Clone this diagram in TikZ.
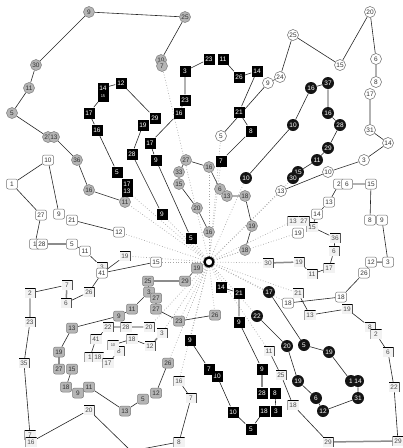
\documentclass[tikz,border=0pt]{standalone}
\usepackage{fontspec}
\setmainfont{Liberation Sans}
\usetikzlibrary{backgrounds}
\definecolor{gcfill}{HTML}{B5B5B5}
\definecolor{gcdraw}{HTML}{7A7A7A}
\definecolor{gctext}{HTML}{333333}
\begin{document}
\begin{tikzpicture}[x=1pt,y=-1pt,
  base/.style={inner sep=0.4pt, font=\fontsize{6.5}{6.5}\selectfont, line width=0.5pt},
  gc/.style={base, circle, fill=gcfill, draw=gcdraw, text=gctext, minimum size=11pt},
  bs/.style={base, rectangle, fill=black, text=white, minimum size=11pt},
  bc/.style={base, circle, fill=black!92, text=white, minimum size=12pt},
  wc/.style={base, circle, fill=white, draw=black!60, text=black!80, minimum size=11pt},
  wr/.style={base, rectangle, rounded corners=2pt, fill=white, draw=black!55, text=black!80, minimum width=11pt, minimum height=10pt},
  gr/.style={base, rectangle, rounded corners=2pt, fill=gcfill, draw=gcdraw, text=gctext, minimum width=11pt, minimum height=10pt},
  brk/.style={base, rectangle, fill=black!5, text=black!70, minimum width=11pt, minimum height=10pt,
    path picture={\draw[line width=1.6pt] (path picture bounding box.north west) -- (path picture bounding box.north east) -- (path picture bounding box.south east);}},
  brkl/.style={base, rectangle, fill=black!5, text=black!70, minimum width=11pt, minimum height=10pt,
    path picture={\draw[line width=1.6pt] (path picture bounding box.north east) -- (path picture bounding box.north west) -- (path picture bounding box.south west);}},
  tiny/.style={font=\fontsize{4}{4}\selectfont},
  e/.style={draw=black!85, line width=0.6pt},
  thk/.style={draw=black!45, line width=1.5pt},
  dot/.style={draw=black!35, dotted, line width=0.7pt}
]
\useasboundingbox (0,0) rectangle (403,448);
\node[circle, draw=black, line width=2.3pt, fill=white, minimum size=9pt, inner sep=0pt] (hub) at (209,262) {};
% gray chain A
\node[gc] (a1) at (89,12) {9};
\node[gc] (a2) at (185,17) {25};
\node[gc] (a3) at (161,60) {10};
\node[gc] (a4) at (162,66) {7};
\node[gc] (a5) at (36,65) {30};
\node[gc] (a6) at (29,88) {11};
\node[gc] (a7) at (12,113) {5};
\node[gc] (a8) at (48,137) {27};
\node[gc] (a9) at (54,137) {13};
\node[gc] (a10) at (77,160) {36};
\node[gc] (a11) at (89,190) {16};
\node[gc] (a12) at (125,202) {11};
% black square chain 1
\node[bs] (b1) at (191,238) {5};
\node[bs] (b2) at (156,160) {9};
\node[bs] (b3) at (150,143) {17};
\node[bs] (b4) at (179,113) {16};
\node[bs] (b5) at (185,100) {23};
\node[bs] (b6) at (185,71) {3};
\node[bs] (b7) at (209,59) {23};
\node[bs] (b8) at (223,59) {11};
\node[bs] (b9) at (239,77) {26};
\node[bs] (b10) at (257,71) {14};
\node[bs] (b11) at (239,112) {21};
\node[bs] (b12) at (251,131) {8};
\node[bs] (b13) at (221,161) {7};
% black square chain 2
\node[bs] (c1) at (162,214) {9};
\node[bs] (c2) at (132,154) {28};
\node[bs] (c3) at (143,125) {19};
\node[bs] (c4) at (155,118) {29};
\node[bs] (c5) at (121,83) {12};
\node[bs] (c6) at (103,88) {14};
\node[bs,tiny] (c7) at (103,96) {15};
\node[bs] (c8) at (89,113) {17};
\node[bs] (c9) at (97,130) {16};
\node[bs] (c10) at (117,172) {5};
\node[bs] (c11) at (127,184) {17};
\node[bs] (c12) at (127,191) {13};
% black circle chain 1
\node[bc] (d1) at (246,178) {10};
\node[bc] (d2) at (293,125) {10};
\node[bc] (d3) at (311,88) {16};
\node[bc] (d4) at (328,83) {37};
\node[bc] (d5) at (328,113) {16};
\node[bc] (d6) at (340,125) {28};
\node[bc] (d7) at (328,148) {29};
\node[bc] (d8) at (317,160) {11};
\node[bc] (d9) at (298,172) {15};
\node[bc] (d10) at (293,178) {30};
% white circle chain
\node[wc] (e1) at (281,191) {13};
\node[wc] (e2) at (328,172) {10};
\node[wc] (e3) at (364,160) {3};
\node[wc] (e4) at (388,143) {14};
\node[wc] (e5) at (370,130) {31};
\node[wc] (e6) at (370,94) {17};
\node[wc] (e7) at (376,82) {8};
\node[wc] (e8) at (376,59) {6};
\node[wc] (e9) at (370,12) {20};
\node[wc] (e10) at (340,65) {15};
\node[wc] (e11) at (293,35) {25};
\node[wc] (e12) at (280,77) {24};
\node[wc] (e13) at (268,83) {9};
\node[wc] (e14) at (221,136) {5};
% gray chain B
\node[gc] (f1) at (209,232) {16};
\node[gc] (f2) at (197,208) {20};
\node[gc] (f3) at (179,184) {15};
\node[gc] (f4) at (179,172) {33};
\node[gc] (f5) at (186,160) {27};
\node[gc] (f6) at (209,167) {16};
\node[gc] (f7) at (220,189) {6};
\node[gc] (f8) at (227,196) {13};
\node[gc] (f9) at (245,196) {18};
\node[gc] (f10) at (252,226) {19};
\node[gc] (f11) at (245,250) {18};
% white rect left
\node[wr] (g1) at (119,232) {12};
\node[wr] (g2) at (72,220) {21};
\node[wr] (g3) at (59,214) {9};
\node[wr] (g4) at (48,160) {10};
\node[wr] (g5) at (12,184) {1};
\node[wr] (g6) at (41,215) {27};
\node[wr] (g7) at (35,244) {1};
\node[wr] (g8) at (42,244) {28};
\node[wr] (g9) at (72,244) {5};
\node[wr] (g10) at (85,251) {11};
% bracket chain 1
\node[brk] (h1) at (125,256) {19};
\node[brk] (h2) at (102,267) {3};
\node[wr] (h3) at (102,273) {41};
\node[brk] (h4) at (89,292) {26};
\node[brk] (h5) at (67,285) {7};
\node[brk] (h6) at (66,303) {6};
\node[brk] (h7) at (30,293) {2};
\node[brk] (h8) at (30,322) {23};
\node[brk] (h9) at (24,363) {35};
\node[brkl] (h10) at (30,435) {7};
\node[brkl] (h11) at (31,442) {16};
\node[brk] (h12) at (89,410) {20};
\node[brkl] (h13) at (179,442) {8};
\node[brk] (h14) at (191,398) {7};
\node[brkl] (h15) at (179,381) {16};
\node[wr] (h16) at (156,262) {15};
\coordinate (bot) at (131,451);
% bracket chain 2
\node[brk] (i1) at (149,327) {20};
\node[brkl] (i2) at (126,327) {28};
\node[brk] (i3) at (108,327) {22};
\node[brkl] (i4) at (96,339) {41};
\node[brkl] (i5) at (90,357) {1};
\node[brkl] (i6) at (98,357) {18};
\node[brkl] (i7) at (108,363) {17};
\node[brk] (i8) at (119,351) {8};
\node[brkl,tiny] (i9) at (113,345) {10};
\node[brkl] (i10) at (132,339) {18};
\node[brk] (i11) at (150,346) {12};
\node[brk] (i12) at (162,333) {3};
% gray rect chain C
\node[gr] (j1) at (197,268) {19};
\node[gr] (j2) at (185,281) {29};
\node[gr] (j3) at (148,281) {25};
\node[gr] (j4) at (149,292) {3};
\node[gr] (j5) at (156,298) {27};
\node[gr] (j6) at (156,309) {27};
\node[gr] (j7) at (179,321) {23};
\node[gr] (j8) at (215,315) {26};
\node[gr] (j9) at (132,309) {11};
\node[gr] (j10) at (119,316) {9};
\node[gr] (j11) at (72,328) {13};
\node[gr] (j12) at (59,352) {19};
\node[gr] (j13) at (59,369) {27};
\node[gr] (j14) at (72,369) {15};
\node[gr] (j15) at (66,387) {18};
\node[gr] (j16) at (78,393) {9};
\node[gr] (j17) at (89,387) {11};
\node[gr] (j18) at (125,411) {13};
\node[gr] (j19) at (143,399) {5};
\node[gr] (j20) at (156,393) {12};
\node[gr] (j21) at (168,363) {26};
% black square chain 3
\node[bs] (k1) at (221,287) {14};
\node[bs] (k2) at (239,293) {21};
\node[bs] (k3) at (239,322) {9};
\node[bs] (k4) at (262,369) {9};
\node[bs] (k5) at (262,393) {28};
\node[bs] (k6) at (275,393) {8};
\node[bs] (k7) at (264,411) {18};
\node[bs] (k8) at (276,411) {3};
\node[bs] (k9) at (251,429) {5};
\node[bs] (k10) at (233,412) {10};
\node[bs] (k11) at (217,376) {10};
\node[bs] (k12) at (209,369) {7};
\node[bs] (k13) at (190,340) {9};
% black circle chain 2
\node[bc] (l1) at (269,292) {17};
\node[bc] (l2) at (304,345) {5};
\node[bc] (l3) at (329,352) {19};
\node[bc] (l4) at (351,381) {1};
\node[bc] (l5) at (358,381) {14};
\node[bc] (l6) at (358,398) {31};
\node[bc] (l7) at (323,411) {12};
\node[bc] (l8) at (316,398) {6};
\node[bc] (l9) at (298,381) {19};
\node[bc] (l10) at (287,346) {20};
\node[bc] (l11) at (257,316) {22};
% bracket chain 3 / white rect right
\node[brk] (m1) at (268,263) {30};
\node[brk] (m2) at (299,262) {19};
\node[brk] (m3) at (312,274) {11};
\node[brkl] (m4) at (329,268) {17};
\node[brk] (m5) at (334,251) {6};
\node[brk] (m6) at (335,238) {36};
\node[brkl] (m7) at (312,227) {15};
\node[brk] (m8) at (304,221) {27};
\node[brkl] (m9) at (293,221) {13};
\node[wr] (m10) at (298,233) {19};
\node[wr] (m11) at (317,214) {14};
\node[wr] (m12) at (329,202) {13};
\node[wr] (m13) at (339,184) {2};
\node[wr] (m14) at (347,184) {6};
\node[wr] (m15) at (371,184) {15};
\node[wr] (m16) at (370,220) {8};
\node[wr] (m17) at (382,220) {9};
\node[wr] (m18) at (388,262) {3};
\node[wr] (m19) at (371,262) {12};
\node[wr] (m20) at (364,273) {26};
\node[wr] (m21) at (341,297) {18};
\node[wr] (m22) at (288,303) {18};
% bracket chain 4
\node[brk] (n1) at (298,293) {21};
\node[brkl] (n2) at (310,315) {13};
\node[brk] (n3) at (347,309) {19};
\node[brk] (n4) at (370,327) {8};
\node[brkl] (n5) at (376,334) {2};
\node[brk] (n6) at (388,352) {6};
\node[brk] (n7) at (394,387) {22};
\node[brkl] (n8) at (398,441) {29};
\node[brk] (n9) at (328,442) {29};
\node[brkl] (n10) at (293,405) {18};
\node[brk] (n11) at (281,375) {25};
\node[brk] (n12) at (269,351) {11};

\begin{pgfonlayer}{background}
% dotted spokes
\foreach \t in {a4,a12,b1,b13,c1,c12,d1,d10,e1,e14,f1,f6,f11,g1,h1,h16,h15,i1,i12,j1,j7,j8,j21,k1,k13,l1,l11,m1,m9,m10,m22,n1,n12}
  \draw[dot] (hub) -- (\t);
% gray A
\draw[e] (a1) -- (a2) (a2) -- (a3) (a1) -- (a5) (a5) -- (a6) (a6) -- (a7) (a7) -- (a8) (a9) -- (a10) (a10) -- (a11) (a11) -- (a12);
% black sq 1
\draw[e] (b1) -- (b2) (b2) -- (b3) (b3) -- (b4) (b4) -- (b5) (b5) -- (b6) (b6) -- (b7) (b8) -- (b9) (b9) -- (b10) (b10) -- (b11) (b11) -- (b12) (b12) -- (b13);
% black sq 2
\draw[e] (c1) -- (c2) (c2) -- (c3) (c4) -- (c5) (c5) -- (c6) (c7) -- (c8) (c8) -- (c9) (c9) -- (c10);
% black circle 1
\draw[e] (d1) -- (d2) (d2) -- (d3) (d3) -- (d4) (d4) -- (d5) (d5) -- (d6) (d6) -- (d7) (d7) -- (d8) (d8) -- (d9);
% white circle
\draw[e] (e1) -- (e2) (e2) -- (e3) (e3) -- (e4) (e4) -- (e5) (e5) -- (e6) (e7) -- (e8) (e8) -- (e9) (e9) -- (e10) (e10) -- (e11) (e11) -- (e12) (e12) -- (e13) (e13) -- (e14);
% gray B
\draw[e] (f1) -- (f2) (f2) -- (f3) (f4) -- (f5) (f5) -- (f6) (f6) -- (f7) (f8) -- (f9) (f9) -- (f10) (f10) -- (f11);
% white rect left
\draw[e] (g1) -- (g2) (g3) -- (g4) (g4) -- (g5) (g5) -- (g6) (g6) -- (g7) (g9) -- (g10) (g10) -- (h2);
\draw[thk] (g8) -- (g9);
% bracket 1
\draw[e] (h1) -- (h3) (h3) -- (h16) (h3) -- (h4) (h4) -- (h6) (h5) -- (h7) (h7) -- (h8) (h8) -- (h9) (h9) -- (h10) (h11) -- (h12) (h12) -- (bot) (bot) -- (h13) (h13) -- (h14) (h14) -- (h15);
\draw[thk] (h6) -- (h5);
% bracket 2
\draw[e] (i1) -- (i2) (i2) -- (i3) (i3) -- (i4) (i4) -- (i5) (i6) -- (i7) (i7) -- (i8) (i9) -- (i10) (i10) -- (i11);
\draw[thk] (i11) -- (i12);
% gray rect C
\draw[e] (j1) -- (j2) (j3) -- (j4) (j6) -- (j7) (j7) -- (j8) (j4) -- (j9) (j9) -- (j10) (j10) -- (j11) (j11) -- (j12) (j14) -- (j15) (j17) -- (j18) (j18) -- (j19) (j20) -- (j21);
\draw[thk] (j2) -- (j3) (j5) -- (j6) (j12) -- (j13);
% black sq 3
\draw[e] (k1) -- (k2) (k2) -- (k3) (k3) -- (k4) (k6) -- (k8) (k7) -- (k9) (k9) -- (k10) (k10) -- (k11) (k12) -- (k13);
\draw[thk] (k4) -- (k5);
% black circle 2
\draw[e] (l1) -- (l2) (l2) -- (l3) (l3) -- (l4) (l5) -- (l6) (l6) -- (l7) (l7) -- (l8) (l8) -- (l9) (l9) -- (l10) (l10) -- (l11);
% bracket 3 / white rect right
\draw[thk] (m1) -- (m2) (m18) -- (m19);
\draw[e] (m2) -- (m3) (m3) -- (m4) (m4) -- (m5) (m5) -- (m6) (m6) -- (m7) (m11) -- (m7) (m12) -- (m11) (m13) -- (m12) (m14) -- (m15) (m15) -- (m16) (m17) -- (m18) (m19) -- (m20) (m20) -- (m21) (m21) -- (m22) (m9) -- (m8);
% bracket 4
\draw[e] (n1) -- (n2) (n2) -- (n3) (n3) -- (n4) (n5) -- (n6) (n6) -- (n7) (n7) -- (n8) (n9) -- (n10) (n10) -- (n11) (n11) -- (n12);
\draw[thk] (n8) -- (n9);
\end{pgfonlayer}
\end{tikzpicture}
\end{document}
